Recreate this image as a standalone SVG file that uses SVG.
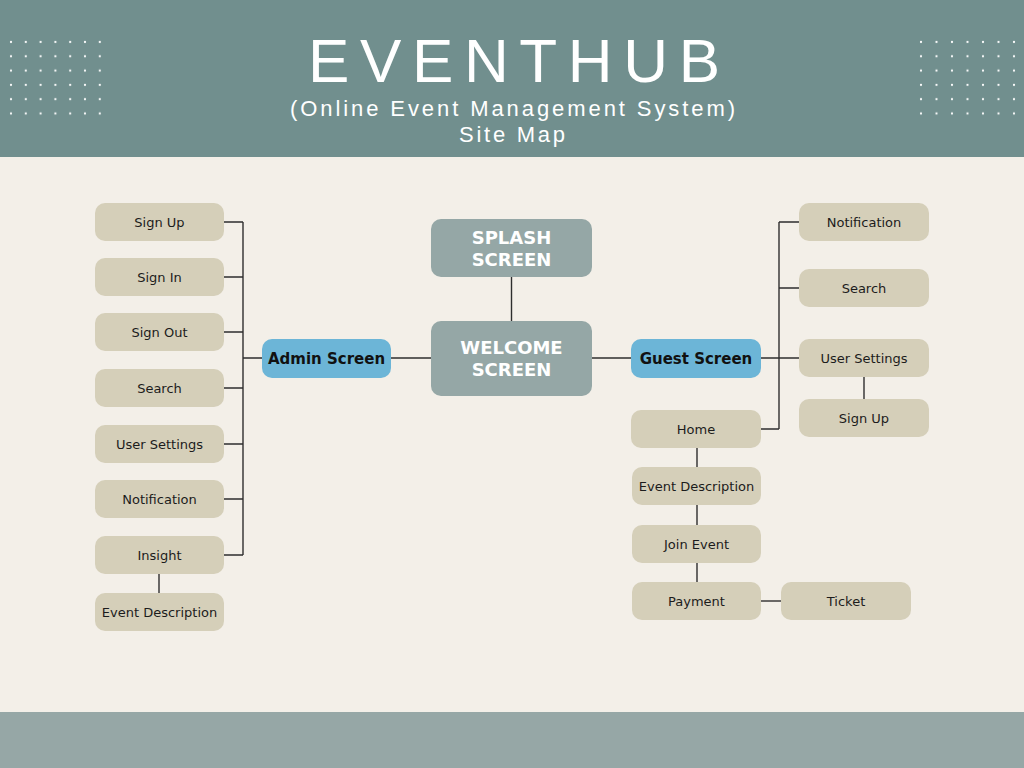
<svg xmlns="http://www.w3.org/2000/svg" width="1024" height="768" viewBox="0 0 1024 768">
<defs>
<style>
.bg{fill:#f3efe8}
.hdr{fill:#718f8e}
.ftr{fill:#96a7a6}
.dot{fill:#ffffff}
.n rect{fill:#d5cfb9}
.n text{font-family:"DejaVu Sans","Liberation Sans",sans-serif;font-size:13px;fill:#1c1c1c;text-anchor:middle}
.b rect{fill:#6cb5d7}
.b text{font-family:"DejaVu Sans","Liberation Sans",sans-serif;font-size:15px;font-weight:bold;fill:#111;text-anchor:middle}
.g rect{fill:#95a7a6}
.g text{font-family:"DejaVu Sans","Liberation Sans",sans-serif;font-size:18px;font-weight:bold;fill:#ffffff;text-anchor:middle}
.t{font-family:"Liberation Sans","Arial",sans-serif;fill:#ffffff}
#connectors path{fill:none;stroke:#2e2e2e;stroke-width:1.4}
</style>
<pattern id="dotsL" x="11" y="42" width="14.8" height="14.3" patternUnits="userSpaceOnUse">
<circle cx="0" cy="0" r="1.1" class="dot"/><circle cx="14.8" cy="0" r="1.1" class="dot"/><circle cx="0" cy="14.3" r="1.1" class="dot"/><circle cx="14.8" cy="14.3" r="1.1" class="dot"/>
</pattern>
<pattern id="dotsR" x="921" y="42" width="15.5" height="14.3" patternUnits="userSpaceOnUse">
<circle cx="0" cy="0" r="1.1" class="dot"/><circle cx="15.5" cy="0" r="1.1" class="dot"/><circle cx="0" cy="14.3" r="1.1" class="dot"/><circle cx="15.5" cy="14.3" r="1.1" class="dot"/>
</pattern>
</defs>
<rect class="bg" x="0" y="0" width="1024" height="768"/>
<rect class="hdr" x="0" y="0" width="1024" height="157"/>
<rect class="ftr" x="0" y="712" width="1024" height="56"/>
<rect x="9" y="40" width="94" height="76" fill="url(#dotsL)"/>
<rect x="919" y="40" width="98" height="76" fill="url(#dotsR)"/>
<text class="t" x="308" y="82" font-size="62" textLength="412" lengthAdjust="spacing">EVENTHUB</text>
<text class="t" x="290" y="116" font-size="22" textLength="445" lengthAdjust="spacing">(Online Event Management System)</text>
<text class="t" x="459" y="142" font-size="22" textLength="106" lengthAdjust="spacing">Site Map</text>

<g id="connectors">
<path d="M243 222V555"/>
<path d="M224 222H243M224 277H243M224 332H243M224 388H243M224 444H243M224 499H243M224 555H243M243 358H262"/>
<path d="M391 358H431"/>
<path d="M159 574V593"/>
<path d="M511.5 277V321"/>
<path d="M592 358H631"/>
<path d="M761 358H799"/>
<path d="M779 222V429"/>
<path d="M779 222H799M779 288H799M761 429H779"/>
<path d="M864 377V399"/>
<path d="M697 448V467M697 505V525M697 563V582"/>
<path d="M761 601H781"/>
</g>

<g id="splash" class="g"><rect x="431" y="219" width="161" height="58" rx="10"/><text x="511.5" y="244">SPLASH</text><text x="511.5" y="266">SCREEN</text></g>
<g id="welcome" class="g"><rect x="431" y="321" width="161" height="75" rx="10"/><text x="511.5" y="354">WELCOME</text><text x="511.5" y="376">SCREEN</text></g>
<g id="admin" class="b"><rect x="262" y="339" width="129" height="39" rx="10"/><text x="326.5" y="363.5">Admin Screen</text></g>
<g id="guest" class="b"><rect x="631" y="339" width="130" height="39" rx="10"/><text x="696" y="363.5">Guest Screen</text></g>

<g id="a-signup" class="n"><rect x="95" y="203" width="129" height="38" rx="10"/><text x="159.5" y="226.5">Sign Up</text></g>
<g id="a-signin" class="n"><rect x="95" y="258" width="129" height="38" rx="10"/><text x="159.5" y="281.5">Sign In</text></g>
<g id="a-signout" class="n"><rect x="95" y="313" width="129" height="38" rx="10"/><text x="159.5" y="336.5">Sign Out</text></g>
<g id="a-search" class="n"><rect x="95" y="369" width="129" height="38" rx="10"/><text x="159.5" y="392.5">Search</text></g>
<g id="a-usersettings" class="n"><rect x="95" y="425" width="129" height="38" rx="10"/><text x="159.5" y="448.5">User Settings</text></g>
<g id="a-notification" class="n"><rect x="95" y="480" width="129" height="38" rx="10"/><text x="159.5" y="503.5">Notification</text></g>
<g id="a-insight" class="n"><rect x="95" y="536" width="129" height="38" rx="10"/><text x="159.5" y="559.5">Insight</text></g>
<g id="a-eventdesc" class="n"><rect x="95" y="593" width="129" height="38" rx="10"/><text x="159.5" y="616.5">Event Description</text></g>

<g id="g-notification" class="n"><rect x="799" y="203" width="130" height="38" rx="10"/><text x="864" y="226.5">Notification</text></g>
<g id="g-search" class="n"><rect x="799" y="269" width="130" height="38" rx="10"/><text x="864" y="292.5">Search</text></g>
<g id="g-usersettings" class="n"><rect x="799" y="339" width="130" height="38" rx="10"/><text x="864" y="362.5">User Settings</text></g>
<g id="g-signup" class="n"><rect x="799" y="399" width="130" height="38" rx="10"/><text x="864" y="422.5">Sign Up</text></g>
<g id="g-home" class="n"><rect x="631" y="410" width="130" height="38" rx="10"/><text x="696" y="433.5">Home</text></g>
<g id="g-eventdesc" class="n"><rect x="632" y="467" width="129" height="38" rx="10"/><text x="696.5" y="490.5">Event Description</text></g>
<g id="g-joinevent" class="n"><rect x="632" y="525" width="129" height="38" rx="10"/><text x="696.5" y="548.5">Join Event</text></g>
<g id="g-payment" class="n"><rect x="632" y="582" width="129" height="38" rx="10"/><text x="696.5" y="605.5">Payment</text></g>
<g id="g-ticket" class="n"><rect x="781" y="582" width="130" height="38" rx="10"/><text x="846" y="605.5">Ticket</text></g>
</svg>
